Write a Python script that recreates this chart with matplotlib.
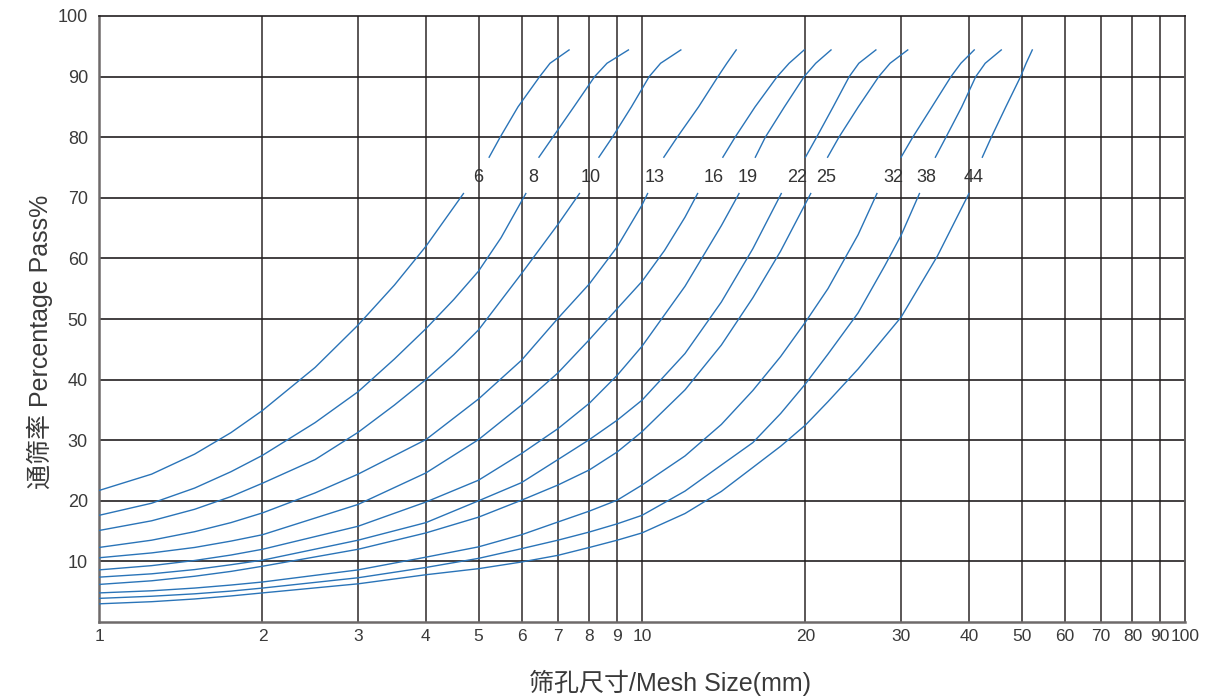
import matplotlib
matplotlib.use("Agg")
import matplotlib.pyplot as plt

plt.rcParams['font.family'] = ['Liberation Sans', 'Noto Sans CJK SC']

# curve labels (mm)
sizes = [6, 8, 10, 13, 16, 19, 22, 25, 32, 38, 44]

# lower branch of each curve: mesh size (mm) and percentage pass
c6_x = [1, 1.25, 1.5, 1.75, 2, 2.5, 3, 3.5, 4, 4.69]
c6_y = [21.7, 24.4, 27.7, 31.25, 34.9, 42.0, 49.0, 55.6, 62.0, 70.7]
c8_x = [1, 1.25, 1.5, 1.75, 2, 2.5, 3, 3.5, 4, 4.5, 5, 5.5, 6.11]
c8_y = [17.6, 19.6, 22.1, 24.8, 27.5, 32.9, 38.0, 43.4, 48.4, 53.2, 57.9, 63.4, 70.7]
c10_x = [1, 1.25, 1.5, 1.75, 2, 2.5, 3, 3.5, 4, 4.5, 5, 6, 7, 7.67]
c10_y = [15.1, 16.7, 18.6, 20.7, 22.9, 26.8, 31.3, 35.8, 40.0, 44.1, 48.2, 57.5, 65.6, 70.7]
c13_x = [1, 1.25, 1.5, 1.75, 2, 2.5, 3, 4, 5, 6, 7, 8, 9, 10, 10.24]
c13_y = [12.3, 13.5, 14.9, 16.4, 18.0, 21.3, 24.4, 30.1, 36.8, 43.2, 50.1, 55.8, 61.9, 68.8, 70.7]
c16_x = [1, 1.25, 1.5, 1.75, 2, 3, 4, 5, 6, 7, 8, 9, 10, 11, 12, 12.66]
c16_y = [10.6, 11.4, 12.3, 13.35, 14.4, 19.4, 24.6, 30.1, 35.8, 41.1, 46.6, 51.7, 56.2, 61.3, 66.8, 70.7]
c19_x = [1, 1.25, 1.5, 1.75, 2, 3, 4, 5, 6, 7, 8, 9, 10, 12, 14, 15.09]
c19_y = [8.6, 9.3, 10.15, 11.05, 12.0, 15.8, 19.8, 23.4, 27.8, 31.9, 36.1, 40.7, 45.5, 55.4, 65.4, 70.7]
c22_x = [1, 1.25, 1.5, 1.75, 2, 3, 4, 5, 6, 7, 8, 9, 10, 12, 14, 16, 18.05]
c22_y = [7.4, 7.95, 8.65, 9.45, 10.2, 13.5, 16.4, 20.0, 23.0, 26.8, 30.1, 33.3, 36.6, 44.3, 52.8, 61.6, 70.7]
c25_x = [1, 1.25, 1.5, 1.75, 2, 3, 4, 5, 6, 7, 8, 9, 10, 12, 14, 16, 18, 20.45]
c25_y = [6.2, 6.8, 7.55, 8.35, 9.2, 12.0, 14.7, 17.3, 20.1, 22.6, 25.1, 28.05, 31.4, 38.3, 45.7, 53.5, 61.2, 70.7]
c32_x = [1, 1.25, 1.5, 1.75, 2, 3, 4, 5, 6, 7, 8, 9, 10, 12, 14, 16, 18, 20, 22, 25, 27.08]
c32_y = [4.8, 5.15, 5.6, 6.1, 6.6, 8.6, 10.7, 12.4, 14.4, 16.5, 18.3, 20.1, 22.6, 27.4, 32.6, 38.2,
         43.8, 49.5, 55.0, 63.9, 70.7]
c38_x = [1, 1.25, 1.5, 1.75, 2, 3, 4, 5, 6, 7, 8, 9, 10, 12, 14, 16, 18, 20, 22, 25, 28, 30, 32.43]
c38_y = [3.9, 4.25, 4.65, 5.1, 5.6, 7.3, 9.0, 10.5, 12.1, 13.5, 14.85, 16.2, 17.6, 21.6, 25.9, 29.6,
         34.4, 39.3, 44.2, 51.0, 58.8, 63.8, 70.7]
c44_x = [1, 1.25, 1.5, 1.75, 2, 3, 4, 5, 6, 7, 8, 9, 10, 12, 14, 16, 18, 20, 22, 25, 30, 35, 40]
c44_y = [3.0, 3.35, 3.8, 4.3, 4.8, 6.3, 7.8, 8.8, 9.9, 11.0, 12.3, 13.5, 14.7, 17.9, 21.55, 25.5,
         29.0, 32.5, 36.35, 41.75, 50.3, 60.4, 70.7]

# upper branch (above the labels): mesh size at each pass level
upper_levels = [76.7, 80, 85, 90, 92.2, 94.4]
u6 = [5.23, 5.48, 5.91, 6.48, 6.77, 7.34]
u8 = [6.46, 6.85, 7.49, 8.18, 8.62, 9.44]
u10 = [8.33, 8.82, 9.56, 10.31, 10.82, 11.79]
u13 = [10.97, 11.61, 12.71, 13.80, 14.33, 14.91]
u16 = [14.09, 14.84, 16.15, 17.74, 18.66, 19.89]
u19 = [16.17, 16.87, 18.29, 19.89, 20.89, 22.29]
u22 = [20.0, 20.97, 22.49, 24.08, 25.08, 26.96]
u25 = [21.97, 23.05, 25.02, 27.29, 28.63, 30.86]
u32 = [30.0, 31.52, 34.19, 37.07, 38.66, 40.91]
u38 = [34.70, 36.29, 38.8, 41.18, 42.86, 45.88]
u44 = [42.34, 43.99, 46.77, 49.8, 50.98, 52.33]

label_x = [5.0, 6.31, 8.06, 10.53, 13.57, 15.64, 19.29, 21.81, 29.01, 33.35, 40.79]
label_y = 73.3

x_ticks = [1, 2, 3, 4, 5, 6, 7, 8, 9, 10, 20, 30, 40, 50, 60, 70, 80, 90, 100]
y_ticks = [10, 20, 30, 40, 50, 60, 70, 80, 90, 100]

lower = [(c6_x, c6_y), (c8_x, c8_y), (c10_x, c10_y), (c13_x, c13_y), (c16_x, c16_y),
         (c19_x, c19_y), (c22_x, c22_y), (c25_x, c25_y), (c32_x, c32_y),
         (c38_x, c38_y), (c44_x, c44_y)]
upper = [u6, u8, u10, u13, u16, u19, u22, u25, u32, u38, u44]

fig = plt.figure(figsize=(12.09, 6.96), dpi=100)
ax = fig.add_axes([99 / 1209, 74 / 696, 1086 / 1209, 606 / 696])
ax.set_xscale('log')
ax.set_xlim(1, 100)
ax.set_ylim(0, 100)

for x in x_ticks[1:-1]:
    ax.axvline(x, color='#5a5656', lw=1.4, zorder=1)
for y in y_ticks[:-1]:
    ax.axhline(y, color='#231f20', lw=1.2, zorder=1)

line_color = '#2a74b8'
for (xs, ys), us, s, lx in zip(lower, upper, sizes, label_x):
    ax.plot(xs, ys, color=line_color, lw=1.0, zorder=3, solid_joinstyle='round')
    ax.plot(us, upper_levels, color=line_color, lw=1.0, zorder=3, solid_joinstyle='round')
    ax.text(lx, label_y, str(s), ha='center', va='center', fontsize=13, color='#333333')

ax.set_xticks(x_ticks)
ax.set_xticklabels([str(v) for v in x_ticks])
ax.xaxis.set_minor_locator(plt.NullLocator())
ax.set_yticks(y_ticks)
ax.set_yticklabels([str(v) for v in y_ticks])
ax.tick_params(axis='both', length=0, labelsize=13, labelcolor='#3a3a3a')
ax.tick_params(axis='x', pad=5, labelsize=12.5)
ax.tick_params(axis='y', pad=8)

ax.spines['left'].set_color('#6e6a6a')
ax.spines['left'].set_linewidth(1.8)
ax.spines['bottom'].set_color('#6e6a6a')
ax.spines['bottom'].set_linewidth(1.8)
ax.spines['top'].set_color('#231f20')
ax.spines['top'].set_linewidth(1.2)
ax.spines['right'].set_color('#5a5656')
ax.spines['right'].set_linewidth(1.4)

fig.text(670 / 1209, 1 - 683 / 696, '筛孔尺寸/Mesh Size(mm)', ha='center', va='center',
         fontsize=18, color='#3a3a3a')
fig.text(40 / 1209, 1 - 342 / 696, '通筛率 Percentage Pass%', ha='center', va='center',
         rotation=90, fontsize=18, color='#3a3a3a')

fig.savefig('out.png', dpi=100)
